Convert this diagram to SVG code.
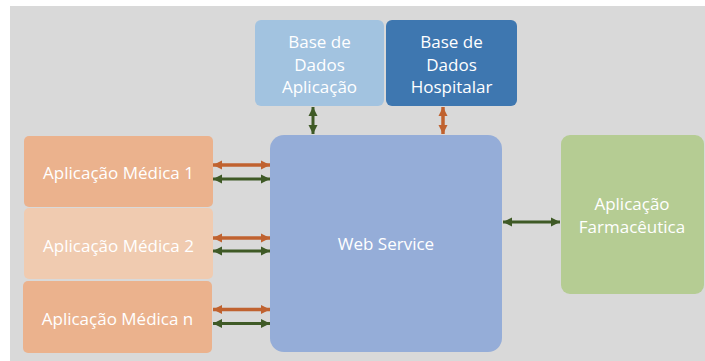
<svg xmlns="http://www.w3.org/2000/svg" width="705" height="361" viewBox="0 0 705 361">
  <style>
    .box text { font-family: "Open Sans", "Noto Sans", sans-serif; font-size: 17px; fill: #ffffff; text-anchor: middle; dominant-baseline: central; }
    .orange { stroke: #c0622f; stroke-width: 3.5; fill: none; marker-start: url(#ho); marker-end: url(#ho); }
    .green { stroke: #3f5a26; stroke-width: 3; fill: none; marker-start: url(#hg); marker-end: url(#hg); }
  </style>
  <defs>
    <marker id="ho" viewBox="0 0 10 10" refX="10" refY="5" markerWidth="9" markerHeight="10" markerUnits="userSpaceOnUse" orient="auto-start-reverse">
      <path d="M0,0 L10,5 L0,10 Z" fill="#c0622f"/>
    </marker>
    <marker id="hg" viewBox="0 0 10 10" refX="10" refY="5" markerWidth="9" markerHeight="10" markerUnits="userSpaceOnUse" orient="auto-start-reverse">
      <path d="M0,0 L10,5 L0,10 Z" fill="#3f5a26"/>
    </marker>
  </defs>

  <!-- canvas -->
  <rect x="10" y="6" width="695" height="355" fill="#d9d9d9"/>

  <g id="db-aplicacao" class="box">
    <rect x="255" y="20" width="129" height="86" rx="6" fill="#a2c3e0"/>
    <text x="319.5" y="41.5">Base de</text>
    <text x="319.5" y="64">Dados</text>
    <text x="319.5" y="86.5">Aplicação</text>
  </g>

  <g id="db-hospitalar" class="box">
    <rect x="386" y="20" width="131" height="86" rx="6" fill="#3e77b0"/>
    <text x="451.5" y="41.5">Base de</text>
    <text x="451.5" y="64">Dados</text>
    <text x="451.5" y="86.5">Hospitalar</text>
  </g>

  <g id="app-medica-1" class="box">
    <rect x="24" y="136" width="189" height="71" rx="5" fill="#ebb28d"/>
    <text x="118.5" y="172">Aplicação Médica 1</text>
  </g>

  <g id="app-medica-2" class="box">
    <rect x="24" y="208" width="189" height="71" rx="5" fill="#f0cbb0"/>
    <text x="118.5" y="245">Aplicação Médica 2</text>
  </g>

  <g id="app-medica-n" class="box">
    <rect x="23" y="281" width="189" height="72" rx="5" fill="#ebb28d"/>
    <text x="117.5" y="318">Aplicação Médica n</text>
  </g>

  <g id="web-service" class="box">
    <rect x="270" y="135" width="232" height="217" rx="14" fill="#95add8"/>
    <text x="386" y="243">Web Service</text>
  </g>

  <g id="app-farmaceutica" class="box">
    <rect x="561" y="135" width="143" height="159" rx="9" fill="#b5cc93"/>
    <text x="632" y="203.5">Aplicação</text>
    <text x="632" y="226.5">Farmacêutica</text>
  </g>

  <g id="connectors">
    <line class="green" x1="313" y1="107" x2="313" y2="134"/>
    <line class="orange" x1="443" y1="107" x2="443" y2="134"/>
    <line class="orange" x1="213" y1="165" x2="270" y2="165"/>
    <line class="green" x1="213" y1="179" x2="270" y2="179"/>
    <line class="orange" x1="213" y1="238" x2="270" y2="238"/>
    <line class="green" x1="213" y1="251" x2="270" y2="251"/>
    <line class="orange" x1="213" y1="309.5" x2="270" y2="309.5"/>
    <line class="green" x1="213" y1="323.5" x2="270" y2="323.5"/>
    <line class="green" x1="503" y1="222" x2="560" y2="222"/>
  </g>
</svg>
